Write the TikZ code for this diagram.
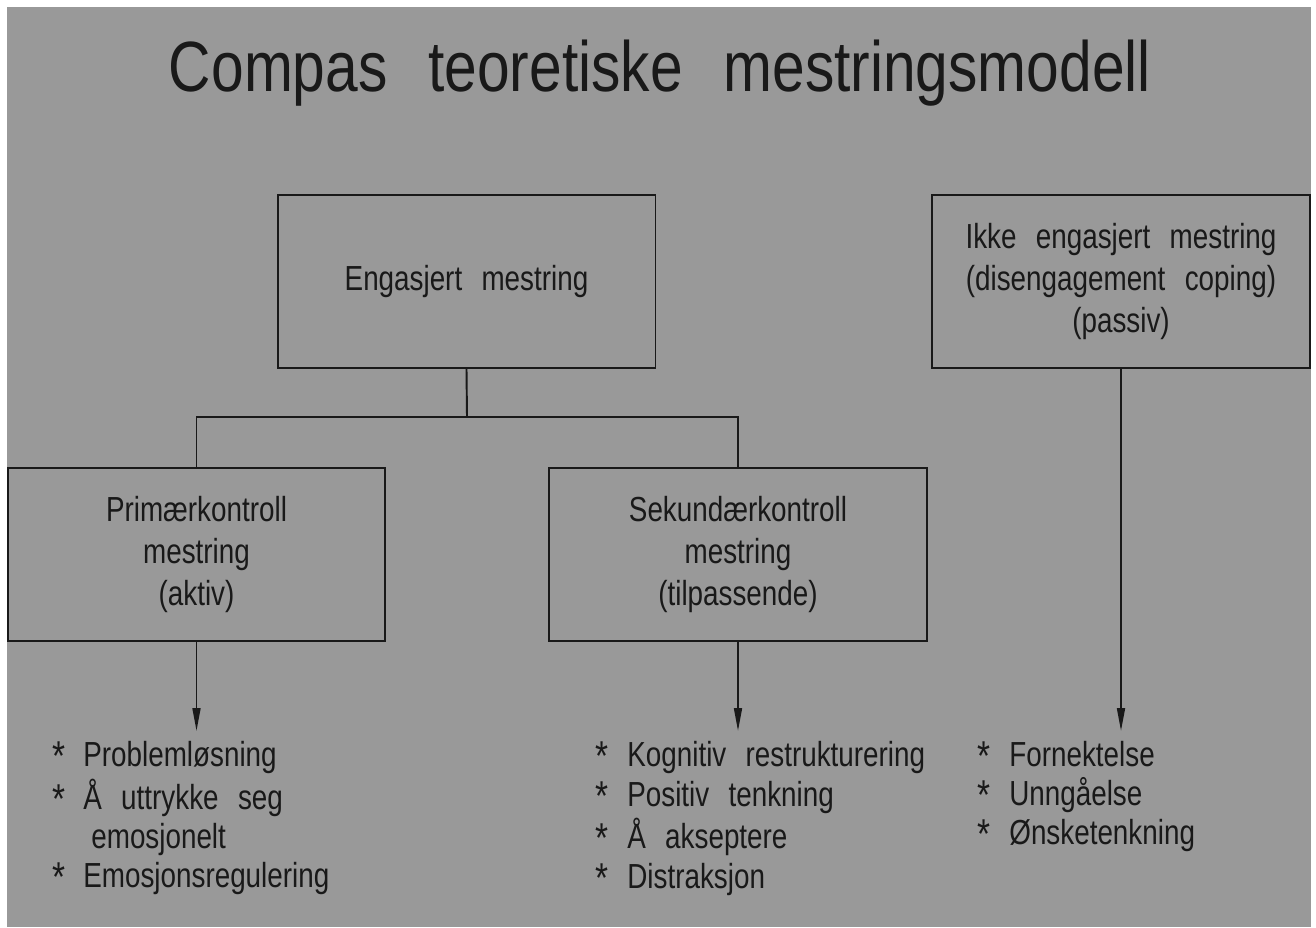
\documentclass[tikz,border=0pt]{standalone}
\usepackage{graphicx}
\usepackage{fontspec}
\setmainfont{Liberation Sans}[FakeStretch=0.8,WordSpace=2.5]
\newfontfamily\ttlfam{Liberation Sans}[FakeStretch=0.825,WordSpace=2.5]
\usetikzlibrary{arrows.meta}
\definecolor{bg}{RGB}{153,153,153}
\definecolor{ink}{RGB}{25,25,25}
\newcommand\bxfont{\fontsize{19.8}{24}\selectfont}
\newcommand\ttlfont{\ttlfam\fontsize{40.5}{44}\selectfont}
\newcommand\astr{\raisebox{-2.8pt}{\scalebox{1.2}{*}}}
\begin{document}
\begin{tikzpicture}[x=0.02cm,y=-0.02cm,
  box/.style={draw=ink, line width=1.1pt, minimum width=7.56cm, minimum height=3.46cm,
    align=center, inner sep=0pt, font=\bxfont, text=ink},
  conn/.style={draw=ink, line width=1.1pt},
  arr/.style={conn, -{Triangle[length=13pt,width=4.5pt]}},
  itm/.style={anchor=base west, inner sep=0pt, font=\bxfont, text=ink}]
\useasboundingbox (0,0) rectangle (1316,927);
\fill[white] (0,0) rectangle (1316,927);
\fill[bg] (7,7) rectangle (1311,927);

\node[anchor=base, inner sep=0pt, font=\ttlfont, text=ink] (title) at (660,91) {Compas teoretiske mestringsmodell};

\node[box] (eng) at (466.5,281.5) {Engasjert mestring};
\node[box] (ikke) at (1121,281.5) {Ikke engasjert mestring\\(disengagement coping)\\(passiv)};
\node[box] (prim) at (196.5,554.5) {Primærkontroll\\mestring\\(aktiv)};
\node[box] (sek) at (738,554.5) {Sekundærkontroll\\mestring\\(tilpassende)};

\coordinate (j) at (467,417);
\draw[conn] (eng.south) -- (j);
\draw[conn] (prim.north) |- (j) -| (sek.north);

\coordinate (a1) at (196.5,731);
\coordinate (a2) at (738,731);
\coordinate (a3) at (1121,731);
\draw[arr] (prim.south) -- (a1);
\draw[arr] (sek.south) -- (a2);
\draw[arr] (ikke.south) -- (a3);

% left list
\node[itm] (s1) at (52,766) {\astr};
\node[itm] (l1) at (83,766) {Problemløsning};
\node[itm] (s2) at (52,809) {\astr};
\node[itm] (l2) at (83,809) {Å uttrykke seg};
\node[itm] (l2b) at (91,848) {emosjonelt};
\node[itm] (s3) at (52,887) {\astr};
\node[itm] (l3) at (83,887) {Emosjonsregulering};

% middle list
\node[itm] (m1s) at (595,766) {\astr};
\node[itm] (m1) at (627,766) {Kognitiv restrukturering};
\node[itm] (m2s) at (595,806) {\astr};
\node[itm] (m2) at (627,806) {Positiv tenkning};
\node[itm] (m3s) at (595,848) {\astr};
\node[itm] (m3) at (627,848) {Å akseptere};
\node[itm] (m4s) at (595,888) {\astr};
\node[itm] (m4) at (627,888) {Distraksjon};

% right list
\node[itm] (r1s) at (977,766) {\astr};
\node[itm] (r1) at (1009,766) {Fornektelse};
\node[itm] (r2s) at (977,805) {\astr};
\node[itm] (r2) at (1009,805) {Unngåelse};
\node[itm] (r3s) at (977,844) {\astr};
\node[itm] (r3) at (1009,844) {Ønsketenkning};
\end{tikzpicture}
\end{document}
